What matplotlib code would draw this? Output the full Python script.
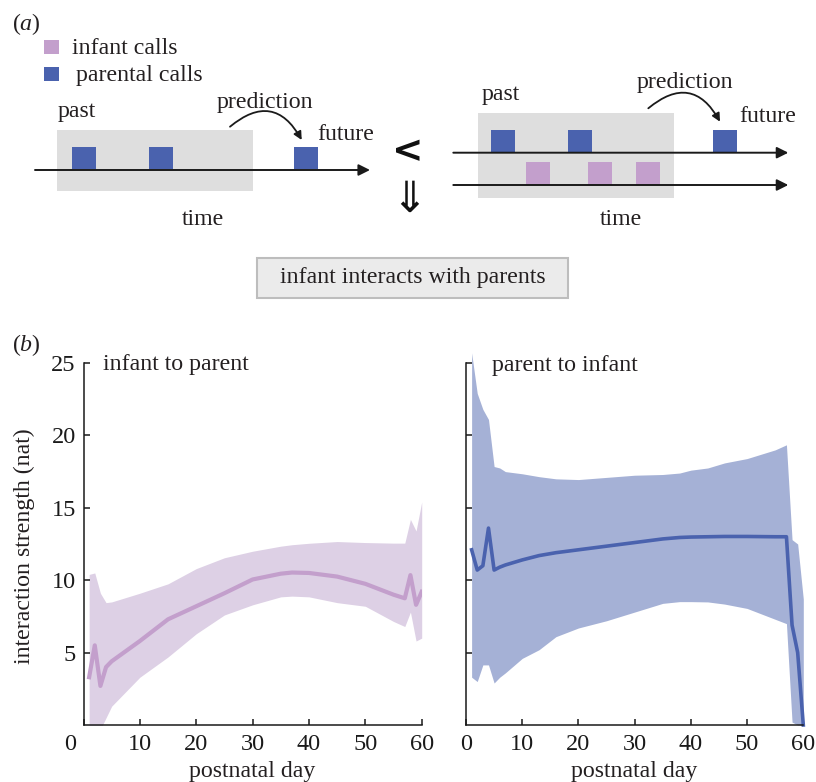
import matplotlib
matplotlib.use("Agg")
import matplotlib.pyplot as plt
import matplotlib.patches as patches
from matplotlib.transforms import ScaledTranslation

plt.rcParams['font.family'] = ['Liberation Serif', 'DejaVu Serif']
plt.rcParams['mathtext.fontset'] = 'custom'
plt.rcParams['mathtext.rm'] = 'Liberation Serif'
plt.rcParams['mathtext.it'] = 'Liberation Serif:italic'

# colours
INFANT_LINE = '#c39fcc'
INFANT_FILL = '#ddd0e5'
PARENT_LINE = '#4a62ae'
PARENT_FILL = '#a5b1d6'
BOX_GREY = '#dedede'
TXT = '#231f20'

# ---- panel (b) data ----
days_i2p = [1, 2, 3, 4, 5, 10, 15, 20, 25, 30, 35, 37, 40, 45, 50, 55, 57, 58, 59, 60]
mean_i2p = [3.3, 5.5, 2.7, 4.0, 4.4, 5.8, 7.3, 8.2, 9.1, 10.05, 10.45, 10.53, 10.5, 10.25,
            9.75, 9.0, 8.75, 10.35, 8.3, 9.2]
upper_i2p = [10.4, 10.5, 9.1, 8.45, 8.5, 9.1, 9.75, 10.8, 11.55, 12.0, 12.35, 12.45, 12.55,
             12.67, 12.6, 12.56, 12.56, 14.2, 13.4, 15.4]
lower_i2p = [-1.0, -1.0, -0.3, 0.5, 1.3, 3.3, 4.7, 6.3, 7.6, 8.3, 8.85, 8.9, 8.85, 8.45,
             8.2, 7.15, 6.8, 7.8, 5.8, 6.0]

days_p2i = [1, 2, 3, 4, 5, 6, 7, 10, 13, 16, 20, 25, 30, 35, 38, 40, 43, 46, 50, 55, 57, 58, 59, 60]
mean_p2i = [12.1, 10.7, 11.0, 13.6, 10.7, 10.9, 11.05, 11.4, 11.7, 11.9, 12.1, 12.35, 12.6,
            12.85, 12.95, 12.98, 13.0, 13.02, 13.02, 13.0, 13.0, 6.9, 5.0, 0.0]
upper_p2i = [25.7, 22.9, 21.8, 21.1, 17.85, 17.75, 17.5, 17.35, 17.15, 17.0, 16.95, 17.1, 17.25,
             17.3, 17.4, 17.6, 17.75, 18.1, 18.4, 19.0, 19.35, 12.8, 12.5, 8.7]
lower_p2i = [3.3, 3.0, 4.15, 4.15, 2.9, 3.3, 3.6, 4.6, 5.2, 6.1, 6.7, 7.2, 7.8, 8.4, 8.52,
             8.52, 8.5, 8.35, 8.05, 7.3, 7.0, 0.2, 0.0, 0.0]

x_ticks = [0, 10, 20, 30, 40, 50, 60]
y_ticks = [5, 10, 15, 20, 25]

# ---- panel (a) schematic (pixel positions of the calls) ----
single_parent_calls = [72.3, 149, 294]
pair_parent_calls = [491, 568.3, 713.3]
pair_infant_calls = [526, 588.3, 636]

W, H = 816, 782
fig = plt.figure(figsize=(W / 100, H / 100), dpi=100)

# schematic drawn in pixel coordinates
ax_a = fig.add_axes([0, 0, 1, 1])
ax_a.set_xlim(0, W)
ax_a.set_ylim(H, 0)
ax_a.axis('off')

FS = 17.2


def square(ax, x, y, color, w=23.7, h=22.7):
    ax.add_patch(patches.Rectangle((x, y), w, h, facecolor=color, edgecolor='none'))


def time_arrow(ax, x0, x1, y):
    ax.annotate('', xy=(x1, y), xytext=(x0, y),
                arrowprops=dict(arrowstyle='-|>', color='#1a1a1a', lw=1.4,
                                mutation_scale=17, shrinkA=0, shrinkB=0))


def predict_arrow(ax, start, end):
    arr = patches.FancyArrowPatch(start, end, connectionstyle='arc3,rad=-0.6',
                                  arrowstyle='-|>', mutation_scale=12, color='#1a1a1a',
                                  lw=1.3, shrinkA=0, shrinkB=0)
    ax.add_patch(arr)


ax_a.text(12, 24, r'$(\mathit{a})$', fontsize=FS, va='center', ha='left', color=TXT)

# legend
ax_a.add_patch(patches.Rectangle((44.3, 40), 15, 14, facecolor=INFANT_LINE, edgecolor='none'))
ax_a.add_patch(patches.Rectangle((44.3, 66.7), 15, 14, facecolor=PARENT_LINE, edgecolor='none'))
ax_a.text(71.7, 54, 'infant calls', fontsize=FS, va='baseline', color=TXT)
ax_a.text(76, 80.5, 'parental calls', fontsize=FS, va='baseline', color=TXT)

# left schematic
ax_a.add_patch(patches.Rectangle((57.3, 130), 195.4, 60.7, facecolor=BOX_GREY, edgecolor='none'))
for x in single_parent_calls:
    square(ax_a, x, 146.7, PARENT_LINE)
time_arrow(ax_a, 35, 370, 170)
predict_arrow(ax_a, (230, 126.7), (301.7, 140))
ax_a.text(57.3, 117, 'past', fontsize=FS, va='baseline', color=TXT)
ax_a.text(216.7, 108, 'prediction', fontsize=FS, va='baseline', color=TXT)
ax_a.text(317.7, 140, 'future', fontsize=FS, va='baseline', color=TXT)
ax_a.text(181.7, 225, 'time', fontsize=FS, va='baseline', color=TXT)

# right schematic
ax_a.add_patch(patches.Rectangle((478.3, 113.3), 195.7, 85, facecolor=BOX_GREY, edgecolor='none'))
for x in pair_parent_calls:
    square(ax_a, x, 130, PARENT_LINE, w=24)
for x in pair_infant_calls:
    square(ax_a, x, 161.7, INFANT_LINE, w=24, h=23.3)
time_arrow(ax_a, 453.3, 788.3, 152.7)
time_arrow(ax_a, 453.3, 788.3, 185)
predict_arrow(ax_a, (648.3, 108.3), (720, 121.7))
ax_a.text(481.7, 100, 'past', fontsize=FS, va='baseline', color=TXT)
ax_a.text(636.7, 88.3, 'prediction', fontsize=FS, va='baseline', color=TXT)
ax_a.text(739.3, 121.7, 'future', fontsize=FS, va='baseline', color=TXT)
ax_a.text(600, 225, 'time', fontsize=FS, va='baseline', color=TXT)

ax_a.text(408, 152.5, '<', fontsize=27, ha='center', va='center', color='#111111',
          family=['DejaVu Sans'], fontweight='bold')
ax_a.text(409, 200, '\u21d3', fontsize=31, ha='center', va='center', color='#111111',
          family=['DejaVu Sans'])

ax_a.add_patch(patches.Rectangle((257.3, 257.7), 311, 40.6, facecolor='#ebebeb',
                                 edgecolor='#bdbdbd', lw=1.5))
ax_a.text(413, 278, 'infant interacts with parents', fontsize=FS, ha='center', va='center',
          color=TXT)

ax_a.text(12, 345, r'$(\mathit{b})$', fontsize=FS, va='center', ha='left', color=TXT)

# ---- panel (b) ----
bottom = 1 - 725 / H
height = 362 / H
ax1 = fig.add_axes([83.5 / W, bottom, 338.2 / W, height])
ax2 = fig.add_axes([466 / W, bottom, 337.3 / W, height])

ax1.fill_between(days_i2p, lower_i2p, upper_i2p, color=INFANT_FILL, lw=0)
ax1.plot(days_i2p, mean_i2p, color=INFANT_LINE, lw=3)

ax2.fill_between(days_p2i, lower_p2i, upper_p2i, color=PARENT_FILL, lw=0, clip_on=False)
ax2.plot(days_p2i, mean_p2i, color=PARENT_LINE, lw=2.6, clip_on=False)

for ax in (ax1, ax2):
    ax.set_xlim(0, 60)
    ax.set_ylim(0, 25)
    ax.set_xticks(x_ticks)
    ax.set_yticks(y_ticks)
    ax.spines['top'].set_visible(False)
    ax.spines['right'].set_visible(False)
    for s in ('left', 'bottom'):
        ax.spines[s].set_linewidth(1.1)
        ax.spines[s].set_color('#1a1a1a')
    ax.tick_params(direction='in', length=4, width=1.1, labelsize=17.5, colors='#1a1a1a')
    ax.tick_params(axis='x', pad=6.5)
    ax.tick_params(axis='y', pad=5.5)
    ax.set_facecolor('none')

ax2.set_yticklabels([])

# the "0" of the left panel sits a bit left of the axis in the original
lbl0 = ax1.get_xticklabels()[0]
lbl0.set_transform(lbl0.get_transform() + ScaledTranslation(-13.5 / 100, 0, fig.dpi_scale_trans))

ax1.text(0.058, (725 - 370) / 362, 'infant to parent', transform=ax1.transAxes,
         fontsize=FS, va='baseline', color=TXT)
ax2.text(0.076, (725 - 370.7) / 362, 'parent to infant', transform=ax2.transAxes,
         fontsize=FS, va='baseline', color=TXT)

fig.text(24 / W, 1 - 546 / H, 'interaction strength (nat)', rotation=90, fontsize=FS,
         ha='center', va='center', color=TXT)
fig.text(252 / W, 1 - 772 / H, 'postnatal day', fontsize=FS, ha='center', va='center',
         color=TXT)
fig.text(634 / W, 1 - 772 / H, 'postnatal day', fontsize=FS, ha='center', va='center',
         color=TXT)

fig.savefig('out.png', dpi=100)
